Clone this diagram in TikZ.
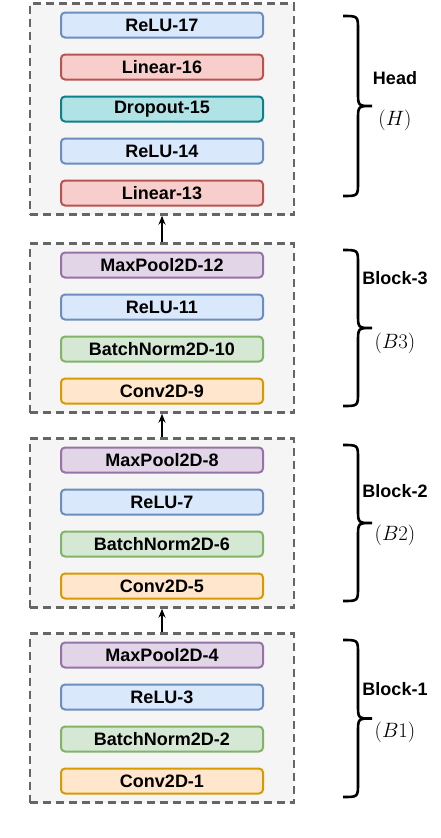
\documentclass[tikz,border=0pt]{standalone}
\usepackage{fontspec}
\setmainfont{Liberation Sans}
\usetikzlibrary{fit,backgrounds,arrows.meta}
\definecolor{reluF}{HTML}{DAE8FC}\definecolor{reluD}{HTML}{6C8EBF}
\definecolor{linF}{HTML}{F8CECC}\definecolor{linD}{HTML}{B85450}
\definecolor{dropF}{HTML}{B0E3E6}\definecolor{dropD}{HTML}{0E8088}
\definecolor{bnF}{HTML}{D5E8D4}\definecolor{bnD}{HTML}{82B366}
\definecolor{poolF}{HTML}{E1D5E7}\definecolor{poolD}{HTML}{9673A6}
\definecolor{convF}{HTML}{FFE6CC}\definecolor{convD}{HTML}{D79B00}
\definecolor{blockF}{HTML}{F5F5F5}\definecolor{blockD}{HTML}{666666}
\begin{document}
\begin{tikzpicture}[x=1pt,y=1pt,node distance=42pt,
  layer/.style={draw,line width=2pt,rounded corners=4pt,minimum width=202pt,minimum height=25pt,inner sep=0pt,font=\fontsize{18}{20}\selectfont\bfseries},
  relu/.style={layer,draw=reluD,fill=reluF},
  linear/.style={layer,draw=linD,fill=linF},
  drop/.style={layer,draw=dropD,fill=dropF},
  bnorm/.style={layer,draw=bnD,fill=bnF},
  pool/.style={layer,draw=poolD,fill=poolF},
  conv/.style={layer,draw=convD,fill=convF},
  block/.style={draw=blockD,fill=blockF,dash pattern=on 8pt off 5pt,line width=2.4pt,inner xsep=30pt,inner ysep=8pt},
  brc/.style={line width=2.6pt},
  lbl/.style={font=\fontsize{18}{20}\selectfont\bfseries},
  sym/.style={font=\fontsize{20}{22}\selectfont}]
  \useasboundingbox (0,0) rectangle (440,-838);
  \node[relu] (17) at (162,-25) {ReLU-17};
  \node[linear] (16) [below of=17] {Linear-16};
  \node[drop] (15) [below of=16] {Dropout-15};
  \node[relu] (14) [below of=15] {ReLU-14};
  \node[linear] (13) [below of=14] {Linear-13};
  \node[pool] (12) at (162,-265) {MaxPool2D-12};
  \node[relu] (11) [below of=12] {ReLU-11};
  \node[bnorm] (10) [below of=11] {BatchNorm2D-10};
  \node[conv] (9) [below of=10] {Conv2D-9};
  \node[pool] (8) at (162,-460) {MaxPool2D-8};
  \node[relu] (7) [below of=8] {ReLU-7};
  \node[bnorm] (6) [below of=7] {BatchNorm2D-6};
  \node[conv] (5) [below of=6] {Conv2D-5};
  \node[pool] (4) at (162,-655) {MaxPool2D-4};
  \node[relu] (3) [below of=4] {ReLU-3};
  \node[bnorm] (2) [below of=3] {BatchNorm2D-2};
  \node[conv] (1) [below of=2] {Conv2D-1};
  \begin{scope}[on background layer]
    \node[block,fit=(17)(13)] (H) {};
    \node[block,fit=(12)(9)] (B3) {};
    \node[block,fit=(8)(5)] (B2) {};
    \node[block,fit=(4)(1)] (B1) {};
  \end{scope}
  \path[-{Stealth[length=9pt,width=7pt]},line width=1.5pt]
  (B1) edge (B2)
  (B2) edge (B3)
  (B3) edge (H);
  \foreach \t/\b in {-16/-196,-250/-406,-445/-601,-640/-797}{
    \pgfmathsetmacro\m{(\t+\b)/2}
    \draw[brc] (343,\t) .. controls (358,\t) .. (358,\t-14) -- (358,\m+14)
      .. controls (358,\m) .. (372,\m) .. controls (358,\m) .. (358,\m-14)
      -- (358,\b+14) .. controls (358,\b) .. (343,\b);
  }
  \node[lbl] (hname) at (395,-78) {Head};
  \node[sym] (hsym) at (395,-120) {$(H)$};
  \node[lbl] (b3name) at (395,-278) {Block-3};
  \node[sym] (b3sym) at (395,-343) {$(B3)$};
  \node[lbl] (b2name) at (395,-491) {Block-2};
  \node[sym] (b2sym) at (395,-535) {$(B2)$};
  \node[lbl] (b1name) at (395,-689) {Block-1};
  \node[sym] (b1sym) at (395,-732) {$(B1)$};
\end{tikzpicture}
\end{document}
